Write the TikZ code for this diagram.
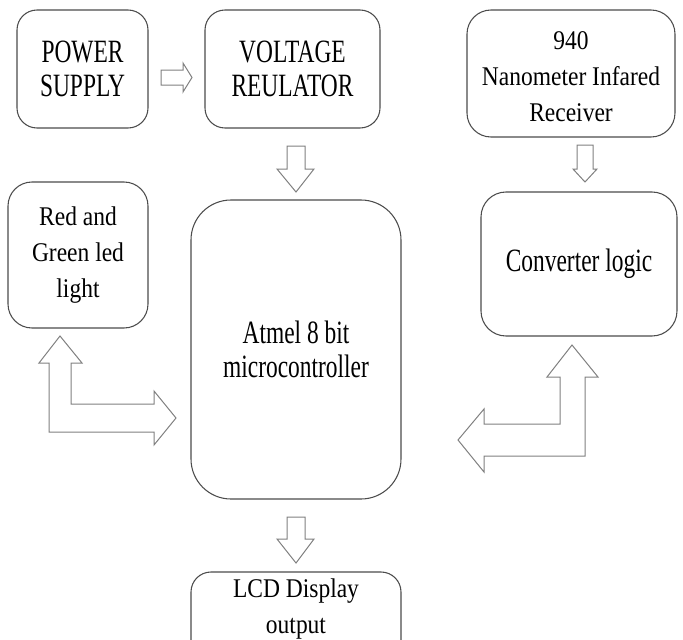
\documentclass[tikz,border=0pt]{standalone}
\usepackage{fontspec}
\setmainfont{Liberation Serif}
\newfontfamily\bigf[FakeStretch=0.72]{Liberation Serif}
\newfontfamily\smallf[FakeStretch=0.87]{Liberation Serif}
\tikzset{
  blk/.style={draw=black!70, line width=0.8pt, rounded corners=#1, align=center, inner sep=0pt},
  blk/.default=15pt,
  barrow/.style={draw=black!50, line width=0.75pt, fill=white, line join=miter},
  bigtxt/.style={font=\bigf\fontsize{24.4}{26}\selectfont},
  smalltxt/.style={font=\smallf\fontsize{20.25}{27}\selectfont},
}
\begin{document}
\begin{tikzpicture}[x=0.75pt,y=-0.75pt]
\useasboundingbox (0,0) rectangle (683,640);
\clip (0,0) rectangle (683,640);
% boxes
\node[blk, minimum width=98.25pt, minimum height=88.5pt, bigtxt] (ps) at (82.5,69) {POWER\\SUPPLY};
\node[blk, minimum width=131.25pt, minimum height=88.5pt, bigtxt] (vr) at (292.5,69) {VOLTAGE\\REULATOR};
\node[blk=18pt, minimum width=156pt, minimum height=95.25pt, smalltxt] (rx) at (571,73.5) {};
\node[smalltxt, align=center] at (571,77) {940\\Nanometer Infared\\Receiver};
\node[blk=18pt, minimum width=105pt, minimum height=109.5pt, smalltxt] (rg) at (78,255) {Red and\\Green led\\light};
\node[blk=30pt, minimum width=157.5pt, minimum height=224.25pt, bigtxt] (mcu) at (296,349.5) {Atmel 8 bit\\microcontroller};
\node[blk=18.75pt, minimum width=147pt, minimum height=108pt, bigtxt] (cv) at (579,264) {Converter logic};
\node[blk, minimum width=157.5pt, minimum height=75pt] (lcd) at (296,622) {};
\node[smalltxt, align=center] at (296,609) {LCD Display\\output};
% straight block arrows
\draw[barrow] (161,70) -- (183,70) -- (183,63) -- (192,77.5) -- (183,92) -- (183,85) -- (161,85) -- cycle;
\draw[barrow] (287,146) -- (305,146) -- (305,169) -- (314,169) -- (296,192) -- (277,169) -- (287,169) -- cycle;
\draw[barrow] (577,145) -- (593,145) -- (593,169) -- (597,169) -- (585,182) -- (573,169) -- (577,169) -- cycle;
\draw[barrow] (287,517) -- (305,517) -- (305,539) -- (314,539) -- (296,563) -- (277,539) -- (287,539) -- cycle;
% elbow arrows
\draw[barrow] (60,336) -- (82,363) -- (71,363) -- (71,404) -- (154,404) -- (154,391) -- (176,418) -- (154,445) -- (154,432) -- (49,432) -- (49,363) -- (39,363) -- cycle;
\draw[barrow] (572,345) -- (598,377) -- (585,377) -- (585,456) -- (484,456) -- (484,472) -- (458,440) -- (484,409) -- (484,424) -- (560,424) -- (560,377) -- (547,377) -- cycle;
\end{tikzpicture}
\end{document}
